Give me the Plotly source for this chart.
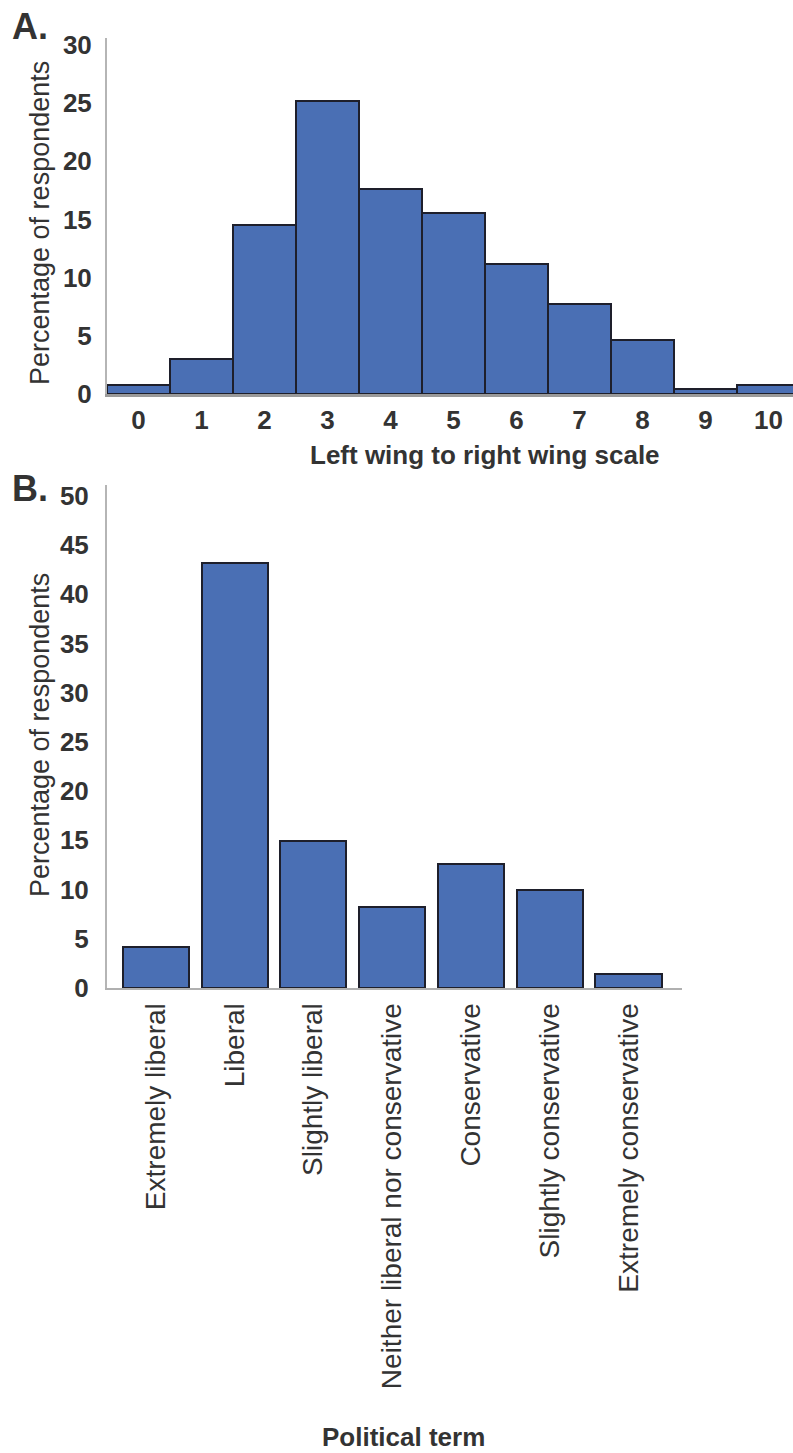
import plotly.graph_objects as go

# ---- data ----
scale_points = [0, 1, 2, 3, 4, 5, 6, 7, 8, 9, 10]
scale_pct = [0.8, 3.0, 14.5, 25.2, 17.6, 15.6, 11.2, 7.7, 4.6, 0.4, 0.8]

terms = ["Extremely liberal", "Liberal", "Slightly liberal",
         "Neither liberal nor conservative", "Conservative",
         "Slightly conservative", "Extremely conservative"]
term_pct = [4.2, 43.2, 14.9, 8.2, 12.6, 10.0, 1.4]

a_yticks = [0, 5, 10, 15, 20, 25, 30]
b_yticks = [0, 5, 10, 15, 20, 25, 30, 35, 40, 45, 50]

W, H = 793, 1453
FILL = "#4a6fb4"
EDGE = "#1e1f2b"
TXT = "#333333"
FONT = "Liberation Sans, Arial, sans-serif"


def px_x(p):
    return p / W


def px_y(p):
    return 1 - p / H


fig = go.Figure()
fig.add_trace(go.Bar(x=scale_points, y=scale_pct, width=1,
                     marker=dict(color=FILL, line=dict(color=EDGE, width=2)),
                     xaxis="x", yaxis="y", showlegend=False))
fig.add_trace(go.Bar(x=terms, y=term_pct, width=0.84,
                     marker=dict(color=FILL, line=dict(color=EDGE, width=2)),
                     xaxis="x2", yaxis="y2", showlegend=False))

tick_font = dict(family=FONT, size=26, color=TXT, weight="bold")

fig.update_layout(
    width=W, height=H,
    margin=dict(l=0, r=0, t=0, b=0),
    paper_bgcolor="white", plot_bgcolor="white",
    bargap=0,
    xaxis=dict(domain=[px_x(107), 1.0], anchor="y",
               range=[-0.5, 10.39], tickvals=scale_points,
               ticktext=[str(v) for v in scale_points],
               showgrid=False, zeroline=False,
               showline=True, linecolor="#9a9a9a", linewidth=3,
               ticks="", tickfont=tick_font, ticklabelstandoff=1,
               automargin=False),
    yaxis=dict(domain=[px_y(394), px_y(38)], anchor="x",
               range=[0, 30.6], tickvals=a_yticks,
               showgrid=False, zeroline=False,
               showline=True, linecolor="#b5b5b5", linewidth=2,
               ticks="", tickfont=tick_font, ticklabelstandoff=8,
               automargin=False),
    xaxis2=dict(domain=[px_x(107), px_x(682)], anchor="y2",
                range=[-0.62, 6.68], type="category",
                showgrid=False, zeroline=False,
                showline=True, linecolor="#b0b0b0", linewidth=2,
                ticks="", tickangle=-90,
                tickfont=dict(family=FONT, size=28, color=TXT),
                ticklabelstandoff=2, automargin=False),
    yaxis2=dict(domain=[px_y(988), px_y(485)], anchor="x2",
                range=[0, 51.1], tickvals=b_yticks,
                showgrid=False, zeroline=False,
                showline=True, linecolor="#b5b5b5", linewidth=2,
                ticks="", tickfont=tick_font, ticklabelstandoff=11,
                automargin=False),
)

ann = [
    dict(text="A.", x=px_x(10), y=px_y(4), xanchor="left", yanchor="top",
         font=dict(family=FONT, size=36, color=TXT, weight="bold")),
    dict(text="B.", x=px_x(10), y=px_y(466), xanchor="left", yanchor="top",
         font=dict(family=FONT, size=36, color=TXT, weight="bold")),
    dict(text="Percentage of respondents", x=px_x(40), y=px_y(223),
         xanchor="center", yanchor="middle", textangle=-90,
         font=dict(family=FONT, size=27, color=TXT)),
    dict(text="Percentage of respondents", x=px_x(40), y=px_y(735),
         xanchor="center", yanchor="middle", textangle=-90,
         font=dict(family=FONT, size=27, color=TXT)),
    dict(text="Left wing to right wing scale", x=px_x(485), y=px_y(455),
         xanchor="center", yanchor="middle",
         font=dict(family=FONT, size=26, color=TXT, weight="bold")),
    dict(text="Political term", x=px_x(403), y=px_y(1437),
         xanchor="center", yanchor="middle",
         font=dict(family=FONT, size=26, color=TXT, weight="bold")),
]
for a in ann:
    a.update(xref="paper", yref="paper", showarrow=False)
fig.update_layout(annotations=ann)

fig.write_html(
    "out.html",
    config={"displayModeBar": False},
    post_script="document.body.style.margin='0px';"
                "document.body.style.overflow='hidden';"
                "document.documentElement.style.overflow='hidden';",
)
